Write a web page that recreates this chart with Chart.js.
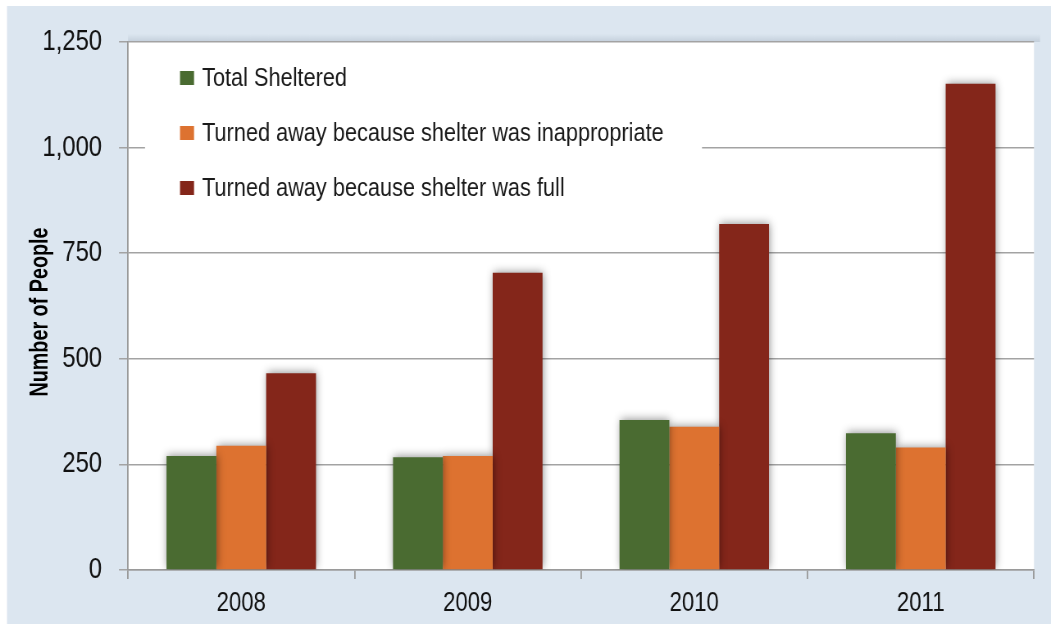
<!DOCTYPE html>
<html>
<head>
<meta charset="utf-8">
<script src="https://cdn.jsdelivr.net/npm/chart.js@4"></script>
<style>
	html, body { margin: 0; padding: 0; background: #ffffff; }
	#wrap { width: 1051px; height: 624px; overflow: hidden; }
	/* drawn wide, shown narrow: gives the condensed Arial look */
	#shelterGraph { display: block; width: 1051px; height: 624px; }
</style>
</head>
<body>
<div id="wrap"><canvas id="shelterGraph" width="1282" height="624" style="width:1051px;height:624px"></canvas></div>
<script>
	const years = ['2008', '2009', '2010', '2011'];
	const totalSheltered = [270, 267, 355, 324];
	const turnedAwayInappropriate = [294, 270, 339, 290];
	const turnedAwayFull = [466, 704, 819, 1151];
	const yTicks = [0, 250, 500, 750, 1000, 1250];

	const seriesNames = [
		'Total Sheltered',
		'Turned away because shelter was inappropriate',
		'Turned away because shelter was full'
	];
	const colors = ['#4a6b31', '#dd7230', '#84261a'];
	const yTitle = 'Number of People';

	const fontFamily = '"Liberation Sans", Arial, Helvetica, sans-serif';
	// horizontal squeeze between canvas pixels and page pixels
	const squeeze = 1051 / 1282;
	const sx = function (px) { return px / squeeze; };

	// blue frame around a white plot area
	const backdrop = {
		id: 'backdrop',
		beforeDraw(chart) {
			const ctx = chart.ctx;
			const a = chart.chartArea;
			ctx.save();
			ctx.fillStyle = '#ffffff';
			ctx.fillRect(0, 0, chart.width, chart.height);
			ctx.fillStyle = '#dce6f0';
			ctx.fillRect(sx(7), 6, chart.width, chart.height);
			ctx.fillStyle = '#ffffff';
			ctx.fillRect(a.left, a.top, a.right - a.left, a.bottom - a.top);
			// soft shade along the top edge
			let g = ctx.createLinearGradient(0, a.top - 8, 0, a.top);
			g.addColorStop(0, 'rgba(150,165,180,0)');
			g.addColorStop(1, 'rgba(150,165,180,0.35)');
			ctx.fillStyle = g;
			ctx.fillRect(a.left, a.top - 8, a.right - a.left + sx(6), 8);
			ctx.restore();
		}
	};

	// soft shadow round the bars
	const barShadow = {
		id: 'barShadow',
		beforeDatasetsDraw(chart) {
			const ctx = chart.ctx;
			ctx.save();
			ctx.shadowColor = 'rgba(0,0,0,0.45)';
			ctx.shadowBlur = 9;
			ctx.shadowOffsetX = 1;
			ctx.shadowOffsetY = -1;
		},
		afterDatasetsDraw(chart) {
			chart.ctx.restore();
		}
	};

	// legend box inside the plot, plus the rotated axis title
	const extras = {
		id: 'extras',
		afterDatasetsDraw(chart) {
			const ctx = chart.ctx;
			const a = chart.chartArea;
			ctx.save();
			ctx.fillStyle = '#ffffff';
			ctx.fillRect(sx(145), 50, sx(557), 160);
			ctx.font = '26.5px ' + fontFamily;
			ctx.textBaseline = 'middle';
			ctx.textAlign = 'left';
			seriesNames.forEach(function (name, i) {
				let y = 78 + i * 55;
				ctx.fillStyle = colors[i];
				ctx.fillRect(sx(180), y - 7, sx(14), 14);
				ctx.fillStyle = '#1a1a1a';
				ctx.fillText(name, sx(202), y + 1);
			});
			ctx.restore();

			// title squeezed along its own length, like the tick text
			ctx.save();
			ctx.translate(sx(40), (a.top + a.bottom) / 2 + 6);
			ctx.rotate(-Math.PI / 2);
			ctx.scale(0.76, 1 / squeeze);
			ctx.font = 'bold 26px ' + fontFamily;
			ctx.fillStyle = '#000000';
			ctx.textAlign = 'center';
			ctx.textBaseline = 'middle';
			ctx.fillText(yTitle, 0, 0);
			ctx.restore();
		}
	};

	let shelterGraph = document.getElementById('shelterGraph');

	let chartData = {
		labels: years,
		datasets: [totalSheltered, turnedAwayInappropriate, turnedAwayFull].map(function (values, i) {
			return {
				label: seriesNames[i],
				data: values,
				backgroundColor: colors[i],
				borderWidth: 0,
				categoryPercentage: 0.66,
				barPercentage: 1.0
			};
		})
	};

	new Chart(shelterGraph, {
		type: 'bar',
		data: chartData,
		plugins: [backdrop, barShadow, extras],
		options: {
			responsive: false,
			animation: false,
			devicePixelRatio: 1,
			layout: {
				padding: { left: 0, top: 42, right: sx(17), bottom: 0 }
			},
			plugins: {
				legend: { display: false },
				tooltip: { enabled: false }
			},
			scales: {
				x: {
					afterFit(scale) {
						scale.height = 54;
						scale.paddingLeft = 0;
						scale.paddingRight = 0;
					},
					grid: {
						drawOnChartArea: false,
						drawTicks: true,
						tickLength: 9,
						color: '#9a9a9a',
						lineWidth: 1.8
					},
					border: { color: '#9a9a9a', width: 1.5 },
					ticks: {
						color: '#111111',
						padding: 8,
						font: { family: fontFamily, size: 27 }
					}
				},
				y: {
					min: 0,
					max: 1250,
					afterFit(scale) {
						scale.width = sx(128);
						scale.paddingTop = 0;
						scale.paddingBottom = 0;
					},
					afterBuildTicks(scale) {
						scale.ticks = yTicks.map(function (v) { return { value: v }; });
					},
					grid: {
						color: '#a3a3a3',
						lineWidth: 1.5,
						tickLength: sx(9)
					},
					border: { color: '#9a9a9a', width: 1.8 },
					ticks: {
						color: '#111111',
						padding: sx(17),
						font: { family: fontFamily, size: 29 },
						callback: function (v) { return v.toLocaleString('en-US'); }
					}
				}
			}
		}
	});
</script>
</body>
</html>
